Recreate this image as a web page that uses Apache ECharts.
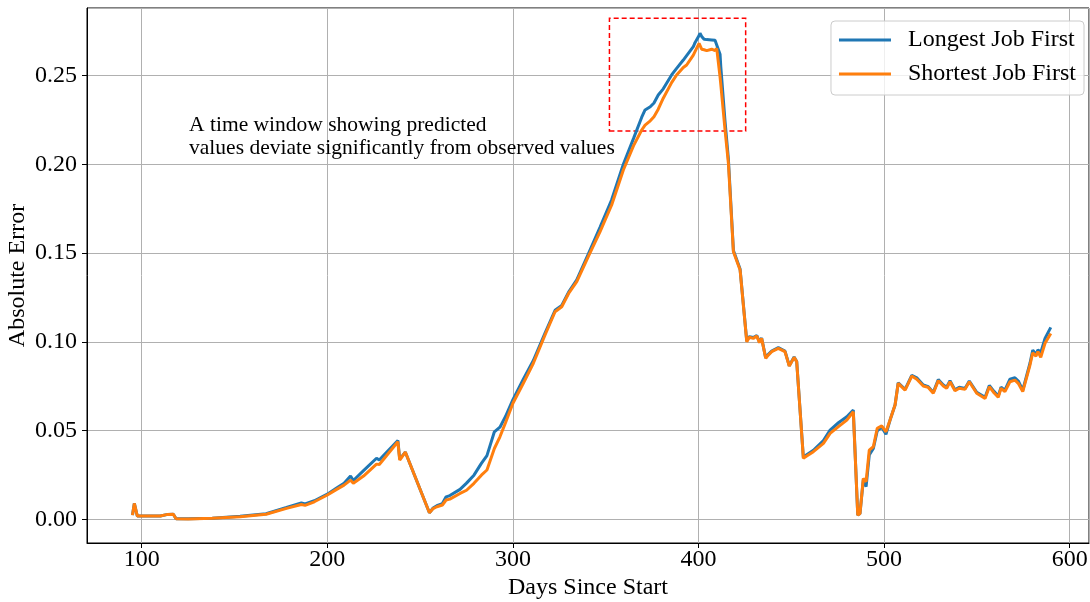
<!DOCTYPE html>
<html>
<head>
<meta charset="utf-8">
<script src="https://cdn.jsdelivr.net/npm/echarts@6/dist/echarts.min.js"></script>
<style>
html,body{margin:0;padding:0;background:#fff;}
#chart{width:1090px;height:602px;}
</style>
</head>
<body>
<div id="chart"></div>
<script>
// ---- data ----
const days = [95,96,97.6,110,114,117,118.5,125,138,153,167,178,186,188,193,200,205,209,212.5,214,219.5,226.5,228,230,238,239,242,255,257,259,262,264,266,271.5,275,279,283,286,290,293,296,300,305.6,311,317.3,322.7,326.3,330,334.4,340.6,346.9,353.2,359.5,365,369.4,371.2,374,376,378.3,381,385.5,388.2,391.8,393.6,397.2,398.1,400.3,400.8,401.7,403,404.4,407.1,408.9,409.8,411.6,412,414.3,416.1,418.8,422.4,426,427.4,429.5,431.4,432.8,434,436.2,437.6,439.4,443,446.6,448.9,451.5,452.9,456.5,458.3,461.9,467.3,470.9,475.4,479.9,483.4,485.8,487,488.8,490.3,492,494.2,496.3,498.7,501,503.2,505.9,507.6,511.3,514.9,517.6,521.1,523.8,526.5,529.2,531.9,533.7,535.5,538.2,540.5,543.6,545.9,549.9,554.4,556.7,559.2,561.5,563,565.1,567.8,570.5,572.3,574.7,578.6,580.1,581.8,582.9,584.4,586.7,589.8];
const sjf = [0.0025,0.0091,0.002,0.002,0.0029,0.003,0.0004,0.0003,0.0007,0.0016,0.003,0.0063,0.0085,0.008,0.010,0.0138,0.017,0.0194,0.0222,0.0204,0.0245,0.0312,0.031,0.0335,0.0438,0.0335,0.038,0.0038,0.0062,0.0072,0.0082,0.011,0.0115,0.0147,0.0165,0.0204,0.025,0.0279,0.040,0.0466,0.0545,0.0655,0.0767,0.088,0.1039,0.117,0.1198,0.1273,0.1339,0.148,0.162,0.1771,0.1968,0.2105,0.2193,0.2221,0.2245,0.2268,0.231,0.2372,0.246,0.2503,0.2545,0.2559,0.2615,0.2634,0.2681,0.267,0.2648,0.2645,0.264,0.2648,0.264,0.2653,0.2493,0.245,0.2193,0.2006,0.1508,0.1405,0.1001,0.1026,0.102,0.1033,0.0996,0.102,0.0908,0.0926,0.0945,0.0964,0.0945,0.0864,0.0913,0.0889,0.0345,0.0358,0.0382,0.0429,0.0485,0.0523,0.056,0.0607,0.0025,0.0034,0.0232,0.0213,0.0391,0.041,0.0514,0.0527,0.0494,0.056,0.0645,0.0767,0.0729,0.0808,0.079,0.0752,0.0744,0.0711,0.0782,0.0752,0.0739,0.0776,0.0725,0.0739,0.0733,0.0776,0.0711,0.0682,0.0748,0.0714,0.0688,0.0739,0.072,0.0776,0.0785,0.0767,0.072,0.087,0.0939,0.092,0.0945,0.0913,0.0992,0.1048];
const ljf = [0.0025,0.0091,0.002,0.002,0.0029,0.003,0.0004,0.0004,0.0008,0.0018,0.0033,0.0068,0.0094,0.0088,0.0106,0.0143,0.0178,0.0205,0.0245,0.022,0.0275,0.0345,0.0335,0.0357,0.0445,0.034,0.038,0.0038,0.0065,0.0078,0.009,0.0128,0.0135,0.017,0.0205,0.025,0.0316,0.036,0.0494,0.052,0.058,0.0675,0.079,0.0895,0.105,0.1178,0.1205,0.128,0.135,0.1495,0.1645,0.180,0.200,0.2146,0.2265,0.2306,0.2324,0.2345,0.239,0.2425,0.2503,0.254,0.2587,0.2612,0.2662,0.2685,0.2725,0.2738,0.272,0.2704,0.2702,0.27,0.2698,0.269,0.262,0.255,0.224,0.203,0.1515,0.141,0.1005,0.103,0.1025,0.1036,0.1,0.1022,0.091,0.093,0.0948,0.0968,0.0948,0.0866,0.0915,0.089,0.0348,0.0365,0.039,0.0445,0.0504,0.0545,0.0579,0.0617,0.0025,0.0034,0.0225,0.0185,0.0363,0.040,0.050,0.052,0.048,0.056,0.0645,0.077,0.0733,0.0812,0.0798,0.0758,0.0748,0.0716,0.0788,0.0758,0.0745,0.0782,0.073,0.0745,0.0738,0.078,0.0716,0.0688,0.0755,0.0722,0.0695,0.0745,0.0728,0.079,0.0798,0.078,0.0728,0.088,0.0954,0.093,0.0955,0.094,0.102,0.1082];
const seriesNames = ['Longest Job First','Shortest Job First'];
const xLimits = [70.5, 610.4];
const yLimits = [-0.0132, 0.288];
const highlightBox = [[352, 0.2187],[425.4, 0.2822]];
const annotationPos = [125.5, 0.2285];
const annotationText = 'A time window showing predicted\nvalues deviate significantly from observed values';
const xTitle = 'Days Since Start';
const yTitle = 'Absolute Error';

const FONT = '"Liberation Serif","Times New Roman",serif';
const zip = (a,b)=>a.map((v,i)=>[v,b[i]]);

const chart = echarts.init(document.getElementById('chart'), null, {renderer:'canvas'});
const option = {
  animation:false,
  backgroundColor:'#fff',
  grid:{left:87,right:1,top:8,bottom:59,show:true,borderColor:'#000',borderWidth:1,backgroundColor:'transparent',
        containLabel:false, outerBoundsMode:'none'},
  xAxis:{
    type:'value', min:xLimits[0], max:xLimits[1], splitNumber:5,
    name:xTitle, nameLocation:'middle', nameGap:33, nameMoveOverlap:false,
    nameTextStyle:{fontFamily:FONT,fontSize:24,color:'#000'},
    axisLine:{show:true,onZero:false,lineStyle:{color:'#000',width:1}},
    axisTick:{show:true,length:5,lineStyle:{color:'#000'}},
    axisLabel:{fontFamily:FONT,fontSize:24,color:'#000',margin:5,showMinLabel:false,showMaxLabel:false,
      formatter:v=> (Math.abs(v%100)<1e-9 ? String(v) : '')},
    splitLine:{show:true,lineStyle:{color:'#b0b0b0',width:1}}
  },
  yAxis:{
    type:'value', min:yLimits[0], max:yLimits[1], splitNumber:6,
    name:yTitle, nameLocation:'middle', nameGap:57, nameRotate:90, nameMoveOverlap:false,
    nameTextStyle:{fontFamily:FONT,fontSize:24,color:'#000'},
    axisLine:{show:true,onZero:false,lineStyle:{color:'#000',width:1}},
    axisTick:{show:true,length:5,lineStyle:{color:'#000'}},
    axisLabel:{fontFamily:FONT,fontSize:24,color:'#000',margin:10,showMinLabel:false,showMaxLabel:false,
      formatter:v=> (Math.abs(Math.round(v*20)-v*20)<1e-6 ? v.toFixed(2) : '')},
    splitLine:{show:true,lineStyle:{color:'#b0b0b0',width:1}}
  },
  legend:{
    orient:'vertical', right:6, top:21,
    data:seriesNames,
    icon:'rect', itemWidth:52, itemHeight:3, itemGap:10,
    textStyle:{fontFamily:FONT,fontSize:24,color:'#000',padding:[0,0,0,12]},
    backgroundColor:'rgba(255,255,255,0.8)', borderColor:'#cccccc', borderWidth:1, borderRadius:4,
    padding:[7,8,9,8]
  },
  series:[
    {name:seriesNames[0], type:'line', data:zip(days,ljf), showSymbol:false, symbol:'none',
     lineStyle:{color:'#1f77b4',width:3}, itemStyle:{color:'#1f77b4'}, z:2},
    {name:seriesNames[1], type:'line', data:zip(days,sjf), showSymbol:false, symbol:'none',
     lineStyle:{color:'#ff7f0e',width:3}, itemStyle:{color:'#ff7f0e'}, z:3,
     markArea:{silent:true,
       itemStyle:{color:'rgba(0,0,0,0)',borderColor:'#ff0000',borderWidth:1.5,borderType:[5,3]},
       data:[[{coord:highlightBox[0]},{coord:highlightBox[1]}]]}
    }
  ]
};
chart.setOption(option);
const p = chart.convertToPixel({gridIndex:0}, annotationPos);
chart.setOption({graphic:[{type:'text', x:p[0], y:p[1], z:10,
  style:{text:annotationText, font:'21.5px '+FONT, fill:'#000', lineHeight:23, textAlign:'left', textVerticalAlign:'top'}}]});
</script>
</body>
</html>
